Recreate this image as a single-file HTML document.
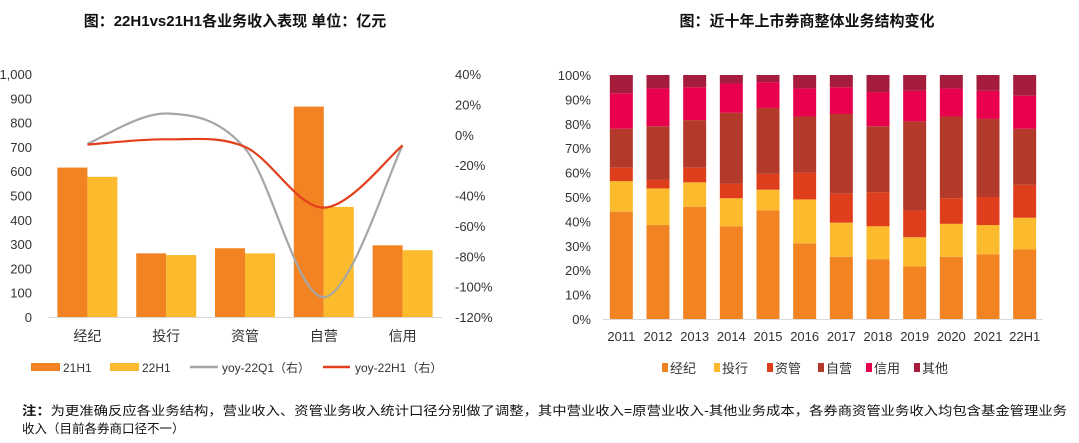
<!DOCTYPE html>
<html><head><meta charset="utf-8"><style>
body{margin:0;background:#fff;}
svg{display:block;font-family:"Liberation Sans","Noto Sans CJK SC",sans-serif;}
</style></head><body>
<svg id="s" width="1079" height="443" viewBox="0 0 1079 443">
<text x="235" y="26" text-anchor="middle" font-size="15" font-weight="bold" fill="#111">图：22H1vs21H1各业务收入表现  单位：亿元</text>
<text x="807" y="26" text-anchor="middle" font-size="15" font-weight="bold" fill="#111">图：近十年上市券商整体业务结构变化</text>
<g id="left"></g>
<g id="right"></g>
<g font-size="12" fill="#333">
<rect x="31" y="363" width="29" height="8" fill="#F28322"/>
<text x="63" y="372">21H1</text>
<rect x="110" y="363" width="29" height="8" fill="#FBBB2C"/>
<text x="142" y="372">22H1</text>
<line x1="190" y1="367" x2="218" y2="367" stroke="#A6A6A6" stroke-width="2.5"/>
<text x="222" y="372">yoy-22Q1（右）</text>
<line x1="323" y1="367" x2="350" y2="367" stroke="#E2401C" stroke-width="2.5"/>
<text x="355" y="372">yoy-22H1（右）</text>
</g>
<g id="rleg" font-size="13" fill="#333"></g>
<text x="22" y="415" font-size="12.5" fill="#111" textLength="1045" lengthAdjust="spacingAndGlyphs"><tspan font-weight="bold">注：</tspan>为更准确反应各业务结构，营业收入、资管业务收入统计口径分别做了调整，其中营业收入=原营业收入-其他业务成本，各券商资管业务收入均包含基金管理业务</text>
<text x="22" y="433" font-size="12.5" fill="#111">收入（目前各券商口径不一）</text>
</svg>
<script>
const NS="http://www.w3.org/2000/svg";
function mk(p,tag,a){const e=document.createElementNS(NS,tag);for(const k in a)e.setAttribute(k,a[k]);p.appendChild(e);return e;}
// ---- left chart data
const leftCats=["经纪","投行","资管","自营","信用"];
const rev21H1=[615,262,283,866,295];
const rev22H1=[577,255,262,453,275];
const yoy22Q1=[-6,14,-9,-107,-7];
const yoy22H1=[-6.5,-3,-8,-48,-7];
const leftTicks=[0,100,200,300,400,500,600,700,800,900,1000];
const leftTickLabels=["0","100","200","300","400","500","600","700","800","900","1,000"];
const rightTicks=[40,20,0,-20,-40,-60,-80,-100,-120];
// ---- right chart data
const years=["2011","2012","2013","2014","2015","2016","2017","2018","2019","2020","2021","22H1"];
const shareBrokerage=[44,38.5,46,38,44.5,31,25.5,24.5,21.5,25.5,26.5,28.5];
const shareIB=[12.5,15,10,11.5,8.5,18,14,13.5,12,13.5,12,13];
const shareAM=[5.5,3.5,6,6,6.5,11,12,14,11,10.5,11.5,13.5];
const shareProp=[16,22,19.5,29,27,23,32.5,27,36.5,33.5,32,23];
const shareCredit=[14.5,15.5,13.5,12,10.5,11.5,11,14,12.5,11.5,11.5,13.5];
const shareOther=[7.5,5.5,5,3.5,3,5.5,5,7,6.5,5.5,6.5,8.5];
const pctTicks=[0,10,20,30,40,50,60,70,80,90,100];
const seriesNames=["经纪","投行","资管","自营","信用","其他"];

// left
const L=document.getElementById('left');
const y0=317,y1=74,xl=48,xr=442;
const yv=v=>y0-(v/1000)*(y0-y1);
const yp=v=>y0-((v+120)/160)*(y0-y1);
const step=(xr-xl)/leftCats.length;
const cx=i=>xl+step*(i+0.5);
leftTicks.forEach((t,i)=>{const e=mk(L,'text',{x:32,y:yv(t)+5,'text-anchor':'end','font-size':13,fill:'#333'});e.textContent=leftTickLabels[i];

});
rightTicks.forEach(t=>{const e=mk(L,'text',{x:455,y:yp(t)+5,'font-size':13,fill:'#333'});e.textContent=t+'%';

});
const bw=30;
leftCats.forEach((c,i)=>{
 const a=mk(L,'rect',{x:cx(i)-bw,y:yv(rev21H1[i]),width:bw,height:y0-yv(rev21H1[i]),fill:'#F28322'});
 
 
 const b=mk(L,'rect',{x:cx(i),y:yv(rev22H1[i]),width:bw,height:y0-yv(rev22H1[i]),fill:'#FBBB2C'});
 
 
 const t=mk(L,'text',{x:cx(i),y:341,'text-anchor':'middle','font-size':14,fill:'#333'});t.textContent=c;
 
 
});
const ax=mk(L,'line',{x1:xl,y1:y0+0.5,x2:xr,y2:y0+0.5,stroke:'#d9d9d9'});


function smooth(pts){let d=`M${pts[0][0]},${pts[0][1]}`;for(let i=0;i<pts.length-1;i++){const p0=pts[Math.max(0,i-1)],p1=pts[i],p2=pts[i+1],p3=pts[Math.min(pts.length-1,i+2)];
d+=` C${p1[0]+(p2[0]-p0[0])/6},${p1[1]+(p2[1]-p0[1])/6} ${p2[0]-(p3[0]-p1[0])/6},${p2[1]-(p3[1]-p1[1])/6} ${p2[0]},${p2[1]}`;}return d;}
const g=mk(L,'path',{d:smooth(yoy22Q1.map((v,i)=>[cx(i),yp(v)])),fill:'none',stroke:'#A6A6A6','stroke-width':2.2});


const r=mk(L,'path',{d:smooth(yoy22H1.map((v,i)=>[cx(i),yp(v)])),fill:'none',stroke:'#E2401C','stroke-width':2.2});



// right
const R=document.getElementById('right');
const ry0=319,ry1=75,rxl=603,rxr=1043;
const ry=v=>ry0-(v/100)*(ry0-ry1);
const rstep=(rxr-rxl)/years.length;
const rcx=i=>rxl+rstep*(i+0.5);
const colors=["#F28322","#FBBB2C","#DF3E1C","#B33A2A","#E8004E","#A51C3C"];
const series=[shareBrokerage,shareIB,shareAM,shareProp,shareCredit,shareOther];
pctTicks.forEach(t=>{const e=mk(R,'text',{x:591,y:ry(t)+5,'text-anchor':'end','font-size':13,fill:'#333'});e.textContent=t+'%';

});
years.forEach((yr,i)=>{
 const tot=series.reduce((s,a)=>s+a[i],0);let acc=0;
 series.forEach((a,k)=>{const v=a[i]/tot*100;
  const e=mk(R,'rect',{x:rcx(i)-11.5,y:ry(acc+v),width:23,height:ry(acc)-ry(acc+v),fill:colors[k]});
  
  
  acc+=v;});
 const t=mk(R,'text',{x:rcx(i),y:341,'text-anchor':'middle','font-size':13,fill:'#333'});t.textContent=yr;
 
 
});
const rax=mk(R,'line',{x1:rxl,y1:ry0+0.5,x2:rxr,y2:ry0+0.5,stroke:'#d9d9d9'});


const RL=document.getElementById('rleg');
const lx=[662,714,767,818,866,914];
seriesNames.forEach((n,k)=>{
 const s=mk(RL,'rect',{x:lx[k],y:363,width:6,height:9,fill:colors[k]});
 
 
 const t=mk(RL,'text',{x:lx[k]+8,y:373});t.textContent=n;
 
 
});
</script>
</body></html>
